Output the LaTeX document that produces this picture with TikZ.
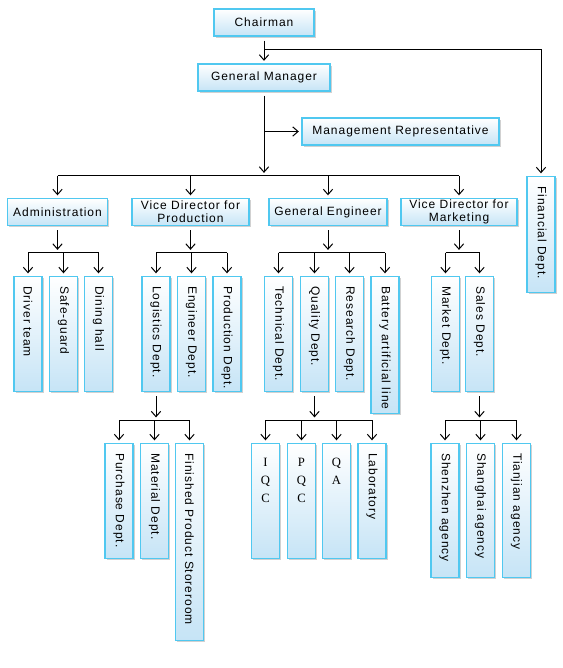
\documentclass[tikz,border=0pt]{standalone}
\usepackage{fontspec}
\setmainfont{Liberation Sans}[LetterSpace=8]
\newfontfamily\stackfont{Liberation Serif}
\usetikzlibrary{positioning}
\usetikzlibrary{arrows.meta}
\usetikzlibrary{shadows}
\usetikzlibrary{calc}

\definecolor{boxline}{RGB}{80,200,240}
\definecolor{boxfill}{RGB}{198,228,246}
\def\u{0.75pt}

\tikzset{
  cell/.style={draw=boxline, line width=0.8pt, top color=white, bottom color=boxfill,
    drop shadow={shadow xshift=1.2pt, shadow yshift=-1.2pt, opacity=0.3, fill=black!60},
    inner sep=0pt, align=center, minimum height={27*\u},
    font=\fontsize{9}{10}\selectfont},
  vcell/.style={cell, anchor=north, minimum width={28*\u}, minimum height={#1*\u}},
  vtext/.style={rotate=-90, anchor=west, inner sep=0pt, font=\fontsize{9}{10}\selectfont},
  stack/.style={anchor=north, align=center, inner sep=0pt,
    font=\stackfont\fontsize{9.5}{13.5}\selectfont},
  arr/.style={-{Straight Barb[length=4pt,width=7pt]}, line width=0.75pt, shorten >=2pt},
  bar/.style={line width=0.75pt}
}

\begin{document}
\begin{tikzpicture}[x=0.75pt, y=-0.75pt]
  \useasboundingbox (0,0) rectangle (563,668);

  % top of the chart
  \node[cell, minimum width={100*\u}] (ch) at (264,22.5) {Chairman};
  \node[cell, minimum width={132*\u}] (gm) at (264,77.5) {General Manager};
  \node[cell, minimum width={197*\u}] (mr) at (400.5,131.5) {Management Representative};
  \node[vcell=116] (fin) at (541,176) {};
  \node[vtext] (fin-t) at ($(fin.north)+(0,10)$) {Financial Dept.};

  % second level
  \node[cell, minimum width={100*\u}] (adm) at (57.5,212) {Administration};
  \node[cell, minimum width={117*\u}] (vdp) at (190.5,212) {Vice Director for\\Production};
  \node[cell, minimum width={118*\u}] (ge) at (328,212) {General Engineer};
  \node[cell, minimum width={116*\u}] (vdm) at (459,212) {Vice Director for\\Marketing};

  % third level
  \foreach \n/\x/\h/\t in {dr/28/115/Driver team, sg/63.5/115/Safe-guard, dh/98.5/115/Dining hall,
      lg/156/115/Logistics Dept., en/191.5/115/Engineer Dept., pd/227/115/Production Dept.,
      td/278.5/115/Technical Dept., qd/314.5/115/Quality Dept., rd/349.5/115/Research Dept.,
      ba/385/137/Battery artificial line, mk/445.5/115/Market Dept., sd/479.5/115/Sales Dept.} {
    \node[vcell=\h] (\n) at (\x,276) {};
    \node[vtext] (\n-t) at ($(\n.north)+(0,10)$) {\t};
  }

  % fourth level
  \foreach \n/\x/\h/\t in {pu/119/115/Purchase Dept., ma/154.5/115/Material Dept.,
      fp/189.5/197/Finished Product Storeroom, lb/372/115/Laboratory,
      sz/445/134/Shenzhen agency, sh/480.5/134/Shanghai agency, tj/516.5/134/Tianjian agency} {
    \node[vcell=\h] (\n) at (\x,443) {};
    \node[vtext] (\n-t) at ($(\n.north)+(0,10)$) {\t};
  }
  \foreach \n/\x/\t in {iq/265.5/{I\\Q\\C}, pq/301.5/{P\\Q\\C}, qa/336.5/{Q\\A}} {
    \node[vcell=115] (\n) at (\x,443) {};
    \node[stack] (\n-t) at ($(\n.north)+(0,15)$) {\t};
  }

  % chairman to manager and finance
  \coordinate (j0) at ($(ch.south)+(0,13)$);
  \draw[arr] ([yshift=-3pt]ch.south) -- (gm.north);
  \draw[arr] (j0) -| (fin.north);

  % manager to second level
  \coordinate (bar1) at ($(gm.south)+(0,84)$);
  \draw[arr] ([yshift=-3pt]gm.south) -- (bar1);
  \draw[arr] (gm.south |- mr.west) -- (mr.west);
  \draw[bar] (adm.north |- bar1) -- (vdm.north |- bar1);
  \foreach \n in {adm,vdp,ge,vdm}
    \draw[arr] (\n.north |- bar1) -- (\n.north);

  % second level to third level
  \foreach \p/\a/\b/\kids in {adm/dr/dh/{dr,sg,dh}, vdp/lg/pd/{lg,en,pd},
      ge/td/ba/{td,qd,rd,ba}, vdm/mk/sd/{mk,sd}} {
    \coordinate (\p-bar) at ($(\p.south)+(0,26.5)$);
    \draw[arr] ([yshift=-3pt]\p.south) -- (\p-bar);
    \draw[bar] (\a.north |- \p-bar) -- (\b.north |- \p-bar);
    \foreach \k in \kids
      \draw[arr] (\k.north |- \p-bar) -- (\k.north);
  }

  % third level to fourth level
  \foreach \p/\a/\b/\kids in {lg/pu/fp/{pu,ma,fp}, qd/iq/lb/{iq,pq,qa,lb}, sd/sz/tj/{sz,sh,tj}} {
    \coordinate (\p-bar) at ($(\p.south)+(0,28)$);
    \draw[arr] ([yshift=-3pt]\p.south) -- (\p-bar);
    \draw[bar] (\a.north |- \p-bar) -- (\b.north |- \p-bar);
    \foreach \k in \kids
      \draw[arr] (\k.north |- \p-bar) -- (\k.north);
  }
\end{tikzpicture}
\end{document}
